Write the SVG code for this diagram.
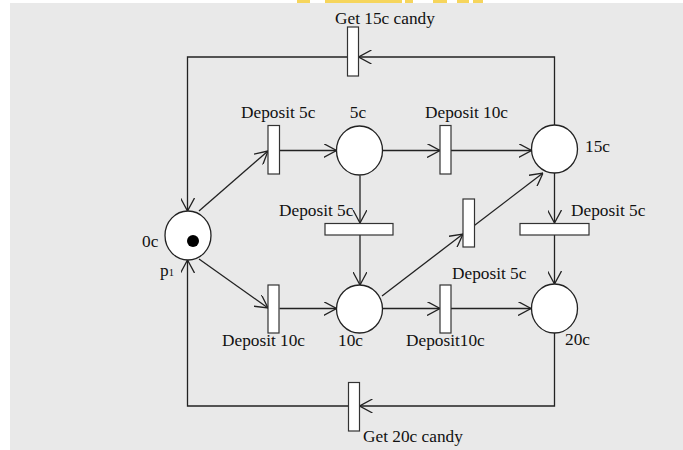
<svg xmlns="http://www.w3.org/2000/svg" width="683" height="450" viewBox="0 0 683 450">
<style>
.bg{fill:#e9e9e9}
.pl{fill:#fff;stroke:#222;stroke-width:1.3}
.tr{fill:#fff;stroke:#333;stroke-width:1.2}
.ed{fill:none;stroke:#222;stroke-width:1.3;marker-end:url(#ah)}
.lb{font-family:"Liberation Serif","Times New Roman",serif;font-size:17.3px;fill:#111}
.yl{fill:#f6d55c}
</style>
<defs>
<marker id="ah" viewBox="0 0 13 14" refX="13" refY="7" markerWidth="13" markerHeight="14" markerUnits="userSpaceOnUse" orient="auto">
<path d="M0,0 L13,7 L0,14" fill="none" stroke="#222" stroke-width="1.3"/>
</marker>
</defs>
<rect class="bg" x="10" y="3" width="673" height="447"/>
<g id="topstrip">
<rect class="yl" x="297" y="0" width="13" height="3"/>
<rect class="yl" x="325" y="0" width="77" height="3"/>
<rect class="yl" x="405" y="0" width="8" height="3"/>
<rect class="yl" x="433" y="0" width="14" height="3"/>
<rect class="yl" x="457" y="0" width="12" height="3"/>
<rect class="yl" x="473" y="0" width="10" height="3"/>
</g>
<g id="connectors">
<line class="ed" x1="199" y1="211" x2="268" y2="151"/>
<line class="ed" x1="279.5" y1="150.5" x2="336.5" y2="150.5"/>
<line class="ed" x1="382.5" y1="150.5" x2="440" y2="150.5"/>
<line class="ed" x1="451" y1="150.5" x2="531.5" y2="150.5"/>
<line class="ed" x1="360" y1="175.5" x2="360" y2="223"/>
<line class="ed" x1="360" y1="235" x2="360" y2="285"/>
<line class="ed" x1="554.5" y1="173" x2="554.5" y2="223"/>
<line class="ed" x1="554.5" y1="235" x2="554.5" y2="284"/>
<line class="ed" x1="199" y1="259" x2="268" y2="308"/>
<line class="ed" x1="279.5" y1="308.5" x2="336.5" y2="308.5"/>
<line class="ed" x1="382" y1="296" x2="463" y2="234"/>
<line class="ed" x1="474" y1="225.7" x2="543" y2="173"/>
<line class="ed" x1="382.5" y1="308.5" x2="440" y2="308.5"/>
<line class="ed" x1="451" y1="308.5" x2="531" y2="308.5"/>
<polyline class="ed" points="554.5,125 554.5,57 358.5,57"/>
<polyline class="ed" points="347.5,57 187.5,57 187.5,211"/>
<polyline class="ed" points="554.5,333 554.5,406 359.5,406"/>
<polyline class="ed" points="348.5,406 187.5,406 187.5,260"/>
</g>
<g id="p0c">
<ellipse class="pl" cx="188" cy="235.5" rx="23" ry="24.5"/>
<circle cx="193" cy="241" r="6" fill="#000"/>
<text class="lb" x="142" y="247">0c</text>
<text class="lb" x="160" y="276">p<tspan font-size="10.5px">1</tspan></text>
</g>
<g id="p5c">
<ellipse class="pl" cx="359.5" cy="150.5" rx="23" ry="24.5"/>
<text class="lb" x="358" y="118" text-anchor="middle">5c</text>
</g>
<g id="p15c">
<ellipse class="pl" cx="554.5" cy="149" rx="23" ry="24"/>
<text class="lb" x="585" y="152">15c</text>
</g>
<g id="p10c">
<ellipse class="pl" cx="359.5" cy="309" rx="23" ry="24"/>
<text class="lb" x="338" y="346">10c</text>
</g>
<g id="p20c">
<ellipse class="pl" cx="554.5" cy="308.5" rx="23" ry="24.5"/>
<text class="lb" x="565" y="345">20c</text>
</g>
<g id="tDep5a">
<rect class="tr" x="268" y="125.5" width="11.5" height="48.5"/>
<text class="lb" x="241" y="118">Deposit 5c</text>
</g>
<g id="tDep10a">
<rect class="tr" x="440" y="125.5" width="11" height="48.5"/>
<text class="lb" x="425" y="118">Deposit 10c</text>
</g>
<g id="tDep5mid">
<rect class="tr" x="325" y="223.5" width="68" height="11.5"/>
<text class="lb" x="279" y="216">Deposit 5c</text>
</g>
<g id="tDep5right">
<rect class="tr" x="520" y="223.5" width="69" height="11.5"/>
<text class="lb" x="571" y="216">Deposit 5c</text>
</g>
<g id="tDiag">
<rect class="tr" x="463" y="199" width="11.5" height="48"/>
<text class="lb" x="452" y="279">Deposit 5c</text>
</g>
<g id="tDep10b">
<rect class="tr" x="268" y="285" width="11" height="48"/>
<text class="lb" x="222" y="346">Deposit 10c</text>
</g>
<g id="tDep10c">
<rect class="tr" x="440" y="285" width="11" height="48"/>
<text class="lb" x="406" y="346">Deposit10c</text>
</g>
<g id="tGet15">
<rect class="tr" x="347.5" y="27" width="11" height="49"/>
<text class="lb" x="335" y="24">Get 15c candy</text>
</g>
<g id="tGet20">
<rect class="tr" x="348.5" y="382.5" width="11" height="48.5"/>
<text class="lb" x="363" y="441.5">Get 20c candy</text>
</g>
</svg>
